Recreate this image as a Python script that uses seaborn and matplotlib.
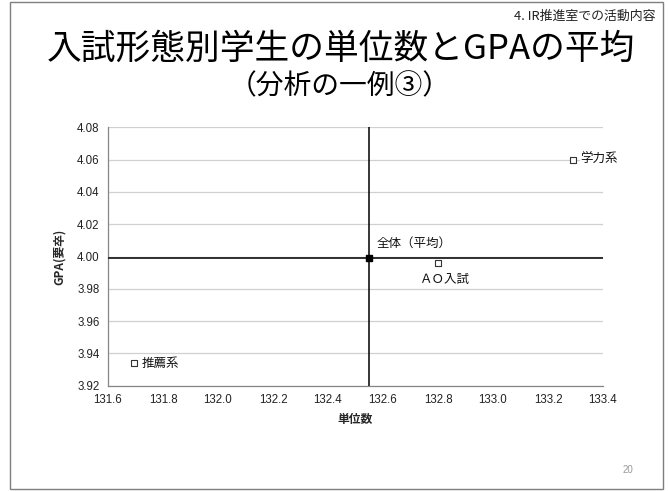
import matplotlib
matplotlib.use("Agg")
import matplotlib.pyplot as plt
import seaborn as sns
import pandas as pd
from matplotlib.patches import Rectangle

# Data: average credits and GPA by admission type
groups = ["学力系", "推薦系", "ＡＯ入試"]
credits = [133.29, 131.695, 132.80]
gpa = [4.060, 3.934, 3.996]
mean_label = "全体（平均）"
mean_credits = 132.55
mean_gpa = 3.999

x_ticks = [131.6, 131.8, 132.0, 132.2, 132.4, 132.6, 132.8, 133.0, 133.2, 133.4]
y_ticks = [3.92, 3.94, 3.96, 3.98, 4.00, 4.02, 4.04, 4.06, 4.08]

df = pd.DataFrame({"group": groups, "credits": credits, "gpa": gpa})

sns.set_theme(style="white")
plt.rcParams["font.family"] = ["Liberation Sans", "Noto Sans CJK JP", "DejaVu Sans"]
jp = ["Noto Sans CJK JP", "DejaVu Sans"]

fig = plt.figure(figsize=(6.68, 4.91), dpi=100)
fig.patch.set_facecolor("white")

# slide frame
fig.patches.append(Rectangle((10 / 668, 2 / 491), 653 / 668, 487 / 491,
                             transform=fig.transFigure, fill=False,
                             edgecolor="#7f7f7f", linewidth=1.0))

fig.text(0.981, 0.966, "4. IR推進室での活動内容", ha="right", va="center",
         fontsize=9.3, family=jp, color="#222222")
fig.text(0.511, 0.900, "入試形態別学生の単位数とGPAの平均", ha="center", va="center",
         fontsize=25, family=jp, color="black")
fig.text(0.509, 0.825, "（分析の一例③）", ha="center", va="center",
         fontsize=20, family=jp, color="black")
fig.text(0.94, 0.043, "20", ha="center", va="center", fontsize=7, color="#999999")

ax = fig.add_axes([108 / 668, 1 - 385.7 / 491, 495 / 668, 258.4 / 491])

ax.set_xlim(x_ticks[0], x_ticks[-1])
ax.set_ylim(y_ticks[0], y_ticks[-1])
ax.set_xticks(x_ticks)
ax.set_yticks(y_ticks)
ax.set_xticklabels([f"{v:.1f}" for v in x_ticks], fontsize=8.3, color="#222222")
ax.set_yticklabels([f"{v:.2f}" for v in y_ticks], fontsize=8.3, color="#222222")
ax.grid(axis="y", color="#d0d0d0", linewidth=0.9)
ax.grid(axis="x", visible=False)
ax.set_axisbelow(True)
for s in ["top", "right"]:
    ax.spines[s].set_visible(False)
for s in ["left", "bottom"]:
    ax.spines[s].set_color("#868686")
    ax.spines[s].set_linewidth(0.9)
ax.tick_params(axis="both", direction="out", length=3, width=0.8, color="#868686", pad=3)

# mean cross-hairs
ax.axvline(mean_credits, color="black", linewidth=1.1, zorder=3)
ax.axhline(mean_gpa, color="#222222", linewidth=1.3, zorder=3)

sns.scatterplot(data=df, x="credits", y="gpa", ax=ax, marker="s", s=24,
                facecolor="white", edgecolor="#333333", linewidth=0.8, zorder=5,
                legend=False)
ax.scatter([mean_credits], [mean_gpa], marker="s", s=16, color="black", zorder=6)

lab_kw = dict(family=jp, fontsize=9, color="#111111", textcoords="offset points",
              bbox=dict(facecolor="white", edgecolor="none", pad=0.5))
offsets = {"学力系": (5.5, 0, "left", "center"),
           "推薦系": (5.5, 0, "left", "center"),
           "ＡＯ入試": (4, -12, "center", "center")}
for g, xv, yv in zip(groups, credits, gpa):
    dx, dy, ha, va = offsets[g]
    ax.annotate(g, (xv, yv), xytext=(dx, dy), ha=ha, va=va, **lab_kw)
ax.annotate(mean_label, (mean_credits, mean_gpa), xytext=(5.5, 10.5), ha="left",
            va="center", **lab_kw)

ax.set_xlabel("単位数", family=jp, fontsize=8.5, fontweight="bold", labelpad=5)
ax.set_ylabel("GPA(要卒)", family=jp, fontsize=8.5, fontweight="bold", labelpad=8)

fig.savefig("out.png", dpi=100, facecolor="white")
